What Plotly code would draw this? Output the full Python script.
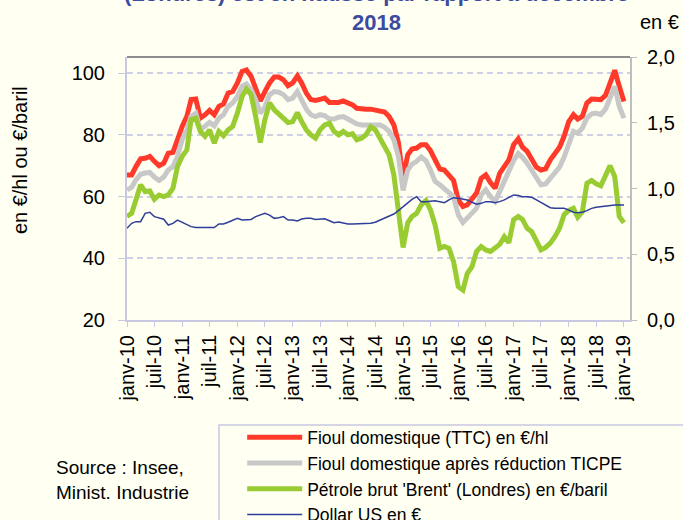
import pandas as pd
import plotly.graph_objects as go

# Monthly dates Jan 2010 -> Jan 2019
months = pd.date_range("2010-01-01", periods=109, freq="MS")

fioul_ttc = [
    67.0, 67.0, 69.7, 72.2, 72.4, 73.0, 71.4, 70.0, 70.8, 74.0, 74.3, 79.0,
    82.7, 86.0, 91.4, 91.6, 85.4, 86.5, 87.9, 86.5, 89.2, 90.0, 93.5, 94.0,
    96.8, 100.5, 101.0, 98.9, 95.1, 91.0, 94.0, 96.8, 98.7, 98.7, 97.8, 95.9,
    96.8, 99.1, 96.8, 93.5, 91.4, 91.1, 91.5, 91.9, 90.5, 90.3, 90.5, 91.0,
    90.5, 89.7, 88.6, 88.3, 88.3, 88.3, 88.1, 87.8, 87.4, 85.9, 83.2, 77.5,
    66.0, 73.5, 75.4, 75.7, 76.8, 76.8, 74.9, 71.9, 68.9, 68.6, 66.7, 65.2,
    58.9, 56.8, 57.3, 59.1, 61.1, 65.9, 67.0, 64.5, 62.7, 67.5, 69.5, 71.9,
    76.8, 78.7, 76.0, 74.6, 72.1, 69.5, 68.6, 69.0, 71.9, 74.1, 76.0, 79.5,
    84.3, 86.5, 85.1, 86.0, 90.3, 91.6, 91.6, 91.4, 92.8, 97.3, 100.9, 95.7,
    90.8,
]

fioul_ticpe = [
    62.2, 63.0, 65.4, 67.2, 67.6, 67.8, 66.3, 65.2, 66.3, 68.6, 69.7, 73.0,
    78.4, 81.6, 86.0, 87.0, 81.6, 82.7, 84.0, 82.9, 85.4, 86.5, 89.2, 90.3,
    92.4, 95.7, 96.5, 94.6, 91.4, 87.0, 89.0, 93.0, 94.0, 93.8, 93.0, 91.4,
    91.9, 94.0, 91.5, 88.3, 86.5, 85.9, 86.5, 86.2, 85.1, 85.1, 85.7, 85.9,
    85.1, 84.3, 83.5, 83.2, 83.2, 83.4, 83.4, 83.2, 82.4, 81.1, 78.4, 73.0,
    62.0, 68.6, 70.5, 71.4, 72.8, 71.6, 68.6, 64.9, 63.8, 62.7, 61.3, 60.0,
    54.1, 51.6, 53.0, 54.4, 56.2, 60.5, 62.2, 60.0, 58.4, 61.6, 65.2, 68.1,
    71.6, 73.9, 72.7, 70.8, 68.6, 65.9, 63.8, 64.1, 65.9, 68.1, 69.5, 72.8,
    77.3, 81.1, 80.5, 82.2, 85.4, 86.8, 87.0, 86.5, 88.3, 92.4, 95.7, 89.2,
    85.4,
]

brent = [
    53.5, 54.6, 58.9, 63.8, 61.6, 61.8, 59.1, 60.5, 60.0, 60.5, 62.7, 69.7,
    73.0, 75.1, 84.9, 85.4, 81.1, 79.5, 81.6, 77.3, 81.1, 79.7, 81.6, 82.7,
    87.0, 92.4, 94.8, 93.0, 85.9, 77.5, 84.9, 90.3, 88.1, 86.7, 85.7, 84.0,
    84.3, 87.2, 84.3, 81.6, 80.0, 78.9, 81.6, 83.2, 83.8, 81.1, 80.0, 81.1,
    80.0, 80.3, 78.4, 78.9, 80.0, 82.6, 81.6, 78.9, 76.8, 73.5, 67.0, 54.6,
    43.5, 51.5, 53.5, 54.6, 57.3, 58.7, 55.7, 50.8, 43.2, 43.8, 43.2, 38.9,
    30.8, 29.7, 35.1, 37.3, 42.2, 43.8, 42.7, 42.2, 43.2, 44.5, 47.0, 45.0,
    52.5, 53.5, 52.6, 49.7, 48.6, 45.4, 42.7, 43.5, 44.9, 47.0, 49.7, 54.1,
    55.5, 56.2, 53.3, 55.1, 64.3, 65.2, 64.1, 63.5, 67.0, 70.0, 66.5, 53.5,
    51.5,
]

dollar = [
    0.697, 0.735, 0.748, 0.748, 0.811, 0.819, 0.786, 0.773, 0.766, 0.722, 0.735, 0.760,
    0.743, 0.728, 0.710, 0.703, 0.703, 0.703, 0.703, 0.703, 0.730, 0.730, 0.743, 0.755,
    0.773, 0.760, 0.760, 0.765, 0.786, 0.798, 0.811, 0.798, 0.773, 0.778, 0.786, 0.760,
    0.760, 0.753, 0.768, 0.773, 0.773, 0.765, 0.765, 0.770, 0.755, 0.740, 0.745, 0.735,
    0.730, 0.730, 0.730, 0.730, 0.730, 0.735, 0.743, 0.760, 0.778, 0.791, 0.806, 0.832,
    0.862, 0.887, 0.917, 0.938, 0.900, 0.900, 0.905, 0.907, 0.900, 0.892, 0.913, 0.930,
    0.925, 0.917, 0.913, 0.895, 0.880, 0.887, 0.900, 0.900, 0.892, 0.900, 0.913, 0.933,
    0.951, 0.946, 0.938, 0.938, 0.933, 0.913, 0.892, 0.875, 0.854, 0.849, 0.849, 0.849,
    0.836, 0.819, 0.816, 0.819, 0.832, 0.849, 0.857, 0.862, 0.862, 0.867, 0.875, 0.875,
    0.875,
]

series_names = [
    "Fioul domestique (TTC) en €/hl",
    "Fioul domestique après réduction TICPE",
    "Pétrole brut 'Brent' (Londres) en €/baril",
    "Dollar US en €",
]

tick_dates = pd.date_range("2010-01-01", "2019-01-01", freq="6MS")
tick_labels = [("janv-" if d.month == 1 else "juil-") + d.strftime("%y") for d in tick_dates]

left_ticks = [20, 40, 60, 80, 100]
right_ticks = [0, 0.5, 1.0, 1.5, 2.0]
right_labels = ["0,0", "0,5", "1,0", "1,5", "2,0"]

FONT = "Liberation Sans, Arial, sans-serif"
LAV = "#C8C8E2"
BG = "#FFFFF2"

fig = go.Figure()
fig.add_trace(go.Scatter(x=months, y=fioul_ttc, name=series_names[0], mode="lines",
                         line=dict(color="#FF3A2A", width=5)))
fig.add_trace(go.Scatter(x=months, y=fioul_ticpe, name=series_names[1], mode="lines",
                         line=dict(color="#C8C8C8", width=5)))
fig.add_trace(go.Scatter(x=months, y=brent, name=series_names[2], mode="lines",
                         line=dict(color="#99CC33", width=5)))
fig.add_trace(go.Scatter(x=months, y=dollar, name=series_names[3], mode="lines",
                         line=dict(color="#2E3E9A", width=1.5), yaxis="y2"))

fig.update_layout(
    width=683, height=520,
    margin=dict(l=127, r=53, t=57, b=200, autoexpand=False),
    paper_bgcolor=BG, plot_bgcolor=BG,
    font=dict(family=FONT, color="#000000", size=19),
    showlegend=True,
    legend=dict(x=0.229, y=-0.378, xanchor="left", yanchor="top",
                font=dict(size=17.5, family=FONT), itemwidth=55,
                bgcolor="rgba(0,0,0,0)", borderwidth=0, tracegroupgap=0),
    xaxis=dict(type="date", range=["2010-01-01", "2019-02-10"],
               tickvals=list(tick_dates), ticktext=tick_labels, tickangle=-90,
               tickfont=dict(size=20), ticks="outside", ticklen=5, tickcolor=LAV,
               showline=True, linecolor=LAV, linewidth=2, showgrid=False,
               zeroline=False),
    yaxis=dict(range=[20, 105.2], tickvals=left_ticks, tickfont=dict(size=20),
               showgrid=True, gridcolor="#CFCFE8", gridwidth=1.5, griddash="6px,4px",
               showline=True, linecolor=LAV, linewidth=2, ticks="outside",
               ticklen=7, tickcolor=LAV, zeroline=False, ticklabelstandoff=9),
    yaxis2=dict(range=[0, 2.0], overlaying="y", side="right", tickvals=right_ticks,
                ticktext=right_labels, tickfont=dict(size=20), showgrid=False,
                showline=True, linecolor="#BEBEBE", linewidth=2, ticks="outside",
                ticklen=5, tickcolor="#BEBEBE", zeroline=False, ticklabelstandoff=6),
)

# top border of plot area
fig.add_shape(type="line", xref="paper", yref="paper", x0=0, x1=1, y0=1, y1=1,
              line=dict(color="#8C8C8C", width=2))
# legend frame
fig.add_shape(type="rect", xref="paper", yref="paper", x0=0.1829, x1=1.2,
              y0=-0.3992, y1=-0.85, line=dict(color=LAV, width=1.5),
              fillcolor="rgba(0,0,0,0)")

# Title (partially cut at the top as in the reference)
fig.add_annotation(xref="paper", yref="paper", x=0.497, y=1.1856,
                   xanchor="center", yanchor="middle", showarrow=False,
                   text="<b>(Londres) est en hausse par rapport à décembre<br>2018</b>",
                   font=dict(size=22, color="#3C4BA0", family=FONT), align="center")
fig.add_annotation(xref="paper", yref="paper", x=1.0596, y=1.133, showarrow=False,
                   xanchor="center", yanchor="middle", text="en €",
                   font=dict(size=20, family=FONT))
fig.add_annotation(xref="paper", yref="paper", x=-0.2127, y=0.608, showarrow=False,
                   xanchor="center", yanchor="middle", textangle=-90,
                   text="en €/hl ou €/baril", font=dict(size=20, family=FONT))
fig.add_annotation(xref="paper", yref="paper", x=-0.145, y=-0.513, showarrow=False,
                   xanchor="left", yanchor="top", align="left",
                   text="Source : Insee,<br>Minist. Industrie",
                   font=dict(size=19, family=FONT))

fig.write_html("out.html", config={"displayModeBar": False},
               post_script="document.body.style.margin='0';")
